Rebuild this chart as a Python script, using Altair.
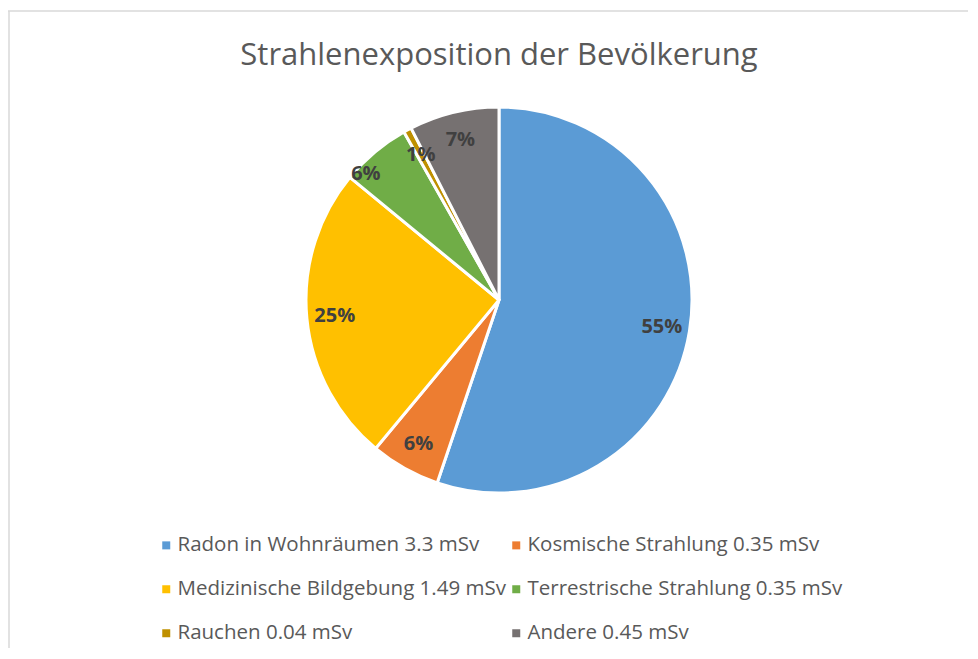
import altair as alt
import pandas as pd

title_text = "Strahlenexposition der Bevölkerung"
categories = ["Radon in Wohnräumen", "Kosmische Strahlung", "Medizinische Bildgebung",
              "Terrestrische Strahlung", "Rauchen", "Andere"]
values = [3.3, 0.35, 1.49, 0.35, 0.04, 0.45]
pct_labels = ["55%", "6%", "25%", "6%", "1%", "7%"]
colors = ["#5B9BD5", "#ED7D31", "#FFC000", "#70AD47", "#BF9000", "#767171"]

legend_labels = [f"{c} {v} mSv" for c, v in zip(categories, values)]
df = pd.DataFrame({
    "idx": list(range(len(categories))),
    "cat": legend_labels,
    "value": values,
    "pct": pct_labels,
})

W, H = 960, 640
CX, CY, R = 491, 292, 193
FONT = "Open Sans"

color = alt.Color(
    "cat:N",
    scale=alt.Scale(domain=legend_labels, range=colors),
    legend=alt.Legend(
        title=None, orient="none", legendX=148, legendY=527, columns=2,
        direction="horizontal",
        symbolType="square", symbolSize=64, symbolStrokeWidth=0,
        labelFont=FONT, labelFontSize=20.5, labelColor="#595959",
        labelLimit=500, labelOffset=1, rowPadding=23, columnPadding=0,
        padding=0,
    ),
)

base = alt.Chart(df).encode(
    theta=alt.Theta("value:Q", stack=True),
    order=alt.Order("idx:Q"),
)

arcs = base.mark_arc(radius=R, stroke="white", strokeWidth=3).encode(
    x=alt.value(CX), y=alt.value(CY), color=color
)

lab_main = base.transform_calculate(
    t="datum.idx == 3 ? '' : datum.pct"
).mark_text(radius=165, font=FONT, fontSize=20, fontWeight="bold", color="#404040").encode(
    x=alt.value(CX), y=alt.value(CY), text="t:N"
)

lab_green = base.transform_calculate(
    t="datum.idx == 3 ? datum.pct : ''"
).mark_text(radius=165, dx=-27, font=FONT, fontSize=20, fontWeight="bold", color="#404040").encode(
    x=alt.value(CX), y=alt.value(CY), text="t:N"
)

tdf = pd.DataFrame({"t": [title_text]})
title = alt.Chart(tdf).mark_text(font=FONT, fontSize=31, color="#595959",
                                 align="center", baseline="alphabetic").encode(
    x=alt.value(CX), y=alt.value(57), text="t:N"
)
top_rule = alt.Chart(tdf).mark_rule(color="#D9D9D9", strokeWidth=1.5).encode(
    x=alt.value(0), x2=alt.value(W), y=alt.value(3)
)
left_rule = alt.Chart(tdf).mark_rule(color="#D9D9D9", strokeWidth=1.5).encode(
    x=alt.value(1), y=alt.value(3), y2=alt.value(H)
)

chart = alt.layer(top_rule, left_rule, title, arcs, lab_main, lab_green).properties(
    width=W, height=H, autosize=alt.AutoSizeParams(type="none"), padding=0,
    background="white",
).configure_view(stroke=None)

chart.save("out.html", embed_options={"renderer": "svg", "actions": False})
